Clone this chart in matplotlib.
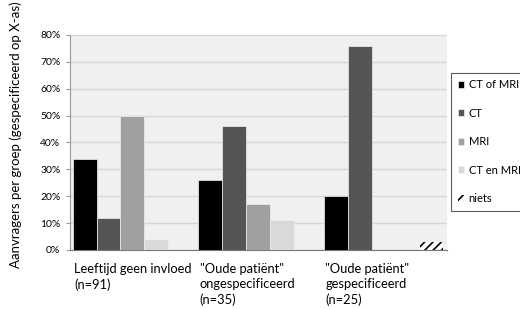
import numpy as np
import matplotlib
matplotlib.use("Agg")
import matplotlib.pyplot as plt
from matplotlib.ticker import PercentFormatter

plt.rcParams["font.family"] = ["Lato", "DejaVu Sans"]
plt.rcParams["hatch.linewidth"] = 1.2

# data (percentages per group)
groups = ["Leeftijd geen invloed\n(n=91)",
          "\"Oude patiënt\"\nongespecificeerd\n(n=35)",
          "\"Oude patiënt\"\ngespecificeerd\n(n=25)"]
series = ["CT of MRI", "CT", "MRI", "CT en MRI", "niets"]
ct_of_mri = [34, 26, 20]
ct = [12, 46, 76]
mri = [50, 17, 0]
ct_en_mri = [4, 11, 0]
niets = [0, 0, 3]
values = [ct_of_mri, ct, mri, ct_en_mri, niets]
colors = ["#000000", "#555555", "#a0a0a0", "#d9d9d9", "white"]
hatches = [None, None, None, None, "////"]

fig = plt.figure(figsize=(5.2, 3.09), dpi=100)
ax = fig.add_axes([0.135, 0.191, 0.725, 0.696])
ax.set_facecolor("#f0f0f0")

x = np.arange(len(groups))
w = 0.19
for i, (name, vals) in enumerate(zip(series, values)):
    ax.bar(x - 0.5 + 0.02 + i * w, vals, width=w, align="edge",
           color=colors[i], hatch=hatches[i],
           edgecolor="#f0f0f0" if hatches[i] is None else "black",
           linewidth=0.5 if hatches[i] is None else 0, label=name, zorder=3)

ax.set_xlim(-0.5, 2.5)
ax.set_ylim(0, 80)
ax.set_yticks(range(0, 81, 10))
ax.yaxis.set_major_formatter(PercentFormatter(decimals=0))
ax.grid(axis="y", color="#d6d6d6", linewidth=1, zorder=0)
ax.set_axisbelow(True)
for s in ["top", "right"]:
    ax.spines[s].set_visible(False)
ax.spines["left"].set_color("#999999")
ax.spines["bottom"].set_color("#777777")
ax.tick_params(axis="y", labelsize=7.5, length=3, color="#999999", pad=4)
ax.set_xticks([])

for xi, label in zip(x, groups):
    ax.text(xi - 0.47, -5, label, ha="left", va="top", fontsize=9.3,
            transform=ax.transData, linespacing=1.3)

ax.set_ylabel("Aanvragers per groep (gespecificeerd op X-as)", fontsize=9.5)
ax.yaxis.set_label_coords(-0.128, 0.535)

leg = ax.legend(loc="upper left", bbox_to_anchor=(1.01, 0.825), fontsize=8,
                frameon=True, fancybox=False, edgecolor="#333333",
                handlelength=0.6, handleheight=0.6, handletextpad=0.4,
                labelspacing=1.58, borderpad=0.6, borderaxespad=0)
leg.get_frame().set_linewidth(0.8)

fig.savefig("out.png", dpi=100)
